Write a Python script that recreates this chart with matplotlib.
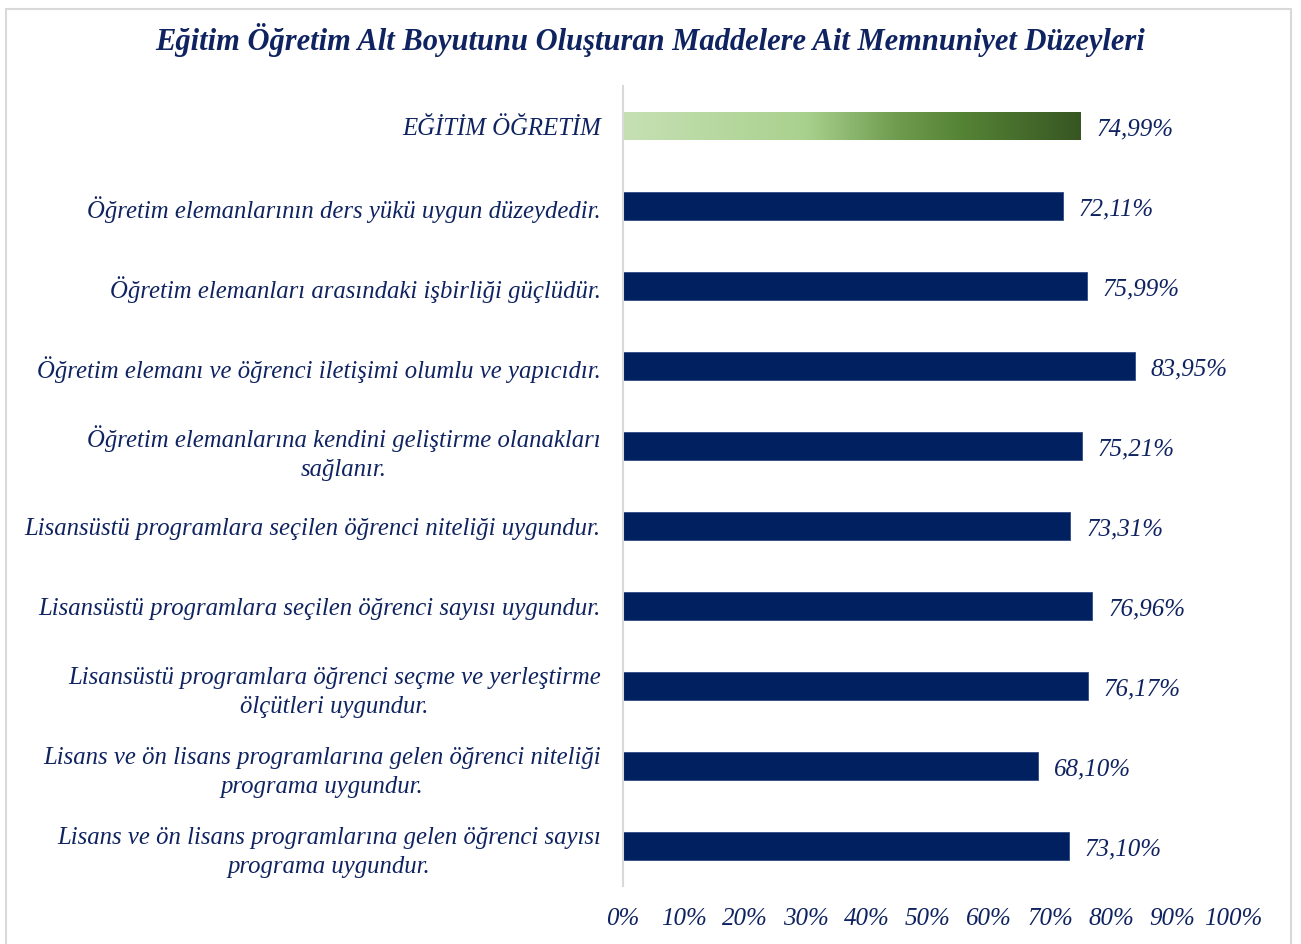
import numpy as np
import matplotlib.pyplot as plt
from matplotlib.patches import Rectangle
from matplotlib.colors import LinearSegmentedColormap

# veriler (üstten alta)
maddeler = [
    'EĞİTİM ÖĞRETİM',
    'Öğretim elemanlarının ders yükü uygun düzeydedir.',
    'Öğretim elemanları arasındaki işbirliği güçlüdür.',
    'Öğretim elemanı ve öğrenci iletişimi olumlu ve yapıcıdır.',
    'Öğretim elemanlarına kendini geliştirme olanakları\nsağlanır.',
    'Lisansüstü programlara seçilen öğrenci niteliği uygundur.',
    'Lisansüstü programlara seçilen öğrenci sayısı uygundur.',
    'Lisansüstü programlara öğrenci seçme ve yerleştirme\nölçütleri uygundur.',
    'Lisans ve ön lisans programlarına gelen öğrenci niteliği\nprograma uygundur.',
    'Lisans ve ön lisans programlarına gelen öğrenci sayısı\nprograma uygundur.',
]
degerler = [74.99, 72.11, 75.99, 83.95, 75.21, 73.31, 76.96, 76.17, 68.10, 73.10]
x_ticks = [0, 10, 20, 30, 40, 50, 60, 70, 80, 90, 100]

metin_renk = '#0F2360'
bar_renk = '#002060'
font = 'Liberation Serif'

fig = plt.figure(figsize=(13.01, 9.45), dpi=100)
ax = fig.add_axes([623/1301, 58/945, 610/1301, 800/945])

y = np.arange(len(maddeler))
bars = ax.barh(y, degerler, height=0.35, color=bar_renk, edgecolor='#2F4A86', linewidth=0.6)

# ilk çubuk yeşil gradyan
bars[0].set_facecolor('none')
bars[0].set_edgecolor('none')
yesil = LinearSegmentedColormap.from_list('yesil', [
    (0.0, '#C6E0B4'), (0.4, '#A9D18E'), (0.6, '#6E9B4E'), (0.75, '#548235'), (1.0, '#375623')])
grad = np.linspace(0, 1, 256).reshape(1, -1)
img = ax.imshow(grad, cmap=yesil, aspect='auto',
                extent=[0, degerler[0], y[0] + 0.175, y[0] - 0.175], zorder=2)
img.set_clip_path(bars[0])

ax.set_xlim(0, 100)
ax.set_ylim(len(maddeler) - 0.5, -0.5)

for yi, v in zip(y, degerler):
    ax.text(v + 2.6, yi + 0.03, f'{v:.2f}'.replace('.', ',') + '%', va='center', ha='left',
            fontsize=18, color=metin_renk, family=font, style='italic')

ax.set_yticks(y)
ax.set_yticklabels(maddeler, fontsize=17.8, color=metin_renk, family=font,
                   style='italic', multialignment='center', linespacing=1.4)
ax.set_xticks(x_ticks)
ax.set_xticklabels([f'{t}%' for t in x_ticks], fontsize=18, color=metin_renk,
                   family=font, style='italic')
ax.tick_params(axis='both', length=0)
ax.tick_params(axis='y', pad=16)
ax.tick_params(axis='x', pad=15)

for s in ['top', 'right', 'bottom']:
    ax.spines[s].set_visible(False)
ax.spines['left'].set_color('#D9D9D9')
ax.spines['left'].set_linewidth(1.5)

fig.text(0.5, 1 - 40/945, 'Eğitim Öğretim Alt Boyutunu Oluşturan Maddelere Ait Memnuniyet Düzeyleri',
         ha='center', va='center', fontsize=22, fontweight='bold', style='italic',
         color=metin_renk, family=font)

# çerçeve
fig.patches.append(Rectangle((6/1301, -0.01), 1285/1301, 1.0 - 0.0005, transform=fig.transFigure,
                             fill=False, edgecolor='#D9D9D9', linewidth=1.5))

fig.savefig('out.png', dpi=100)
